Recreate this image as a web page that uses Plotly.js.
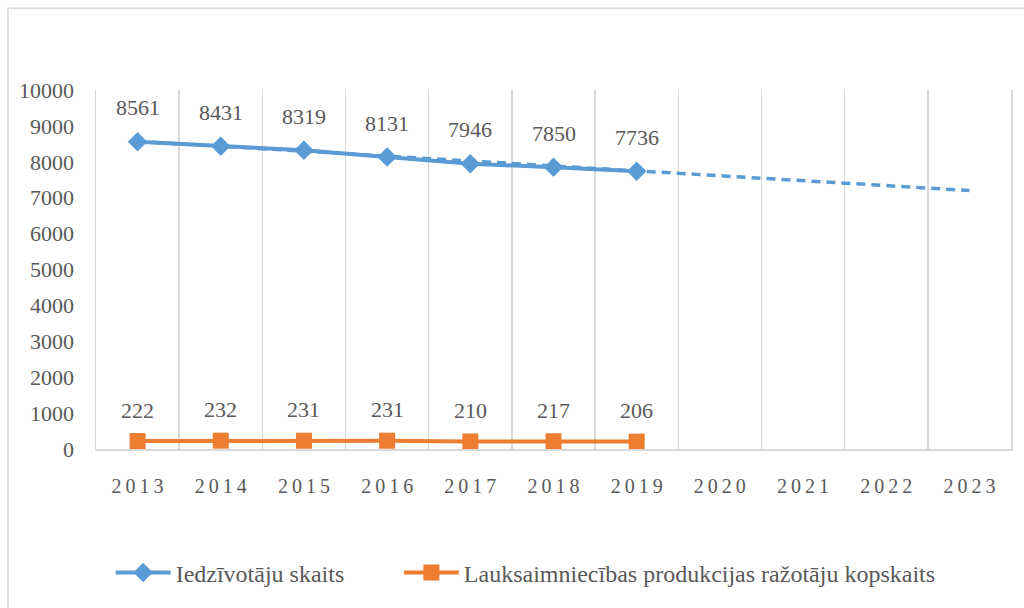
<!DOCTYPE html>
<html>
<head>
<meta charset="utf-8">
<script src="https://cdn.plot.ly/plotly-3.0.1.min.js"></script>
<style>body{margin:0;background:#fff}#chart{width:1024px;height:608px}</style>
</head>
<body>
<div id="chart"></div>
<script>
const years = ["2013","2014","2015","2016","2017","2018","2019","2020","2021","2022","2023"];
const popYears = ["2013","2014","2015","2016","2017","2018","2019"];
const population = [8561, 8431, 8319, 8131, 7946, 7850, 7736];
const producers = [222, 232, 231, 231, 210, 217, 206];
const trendYears = ["2013", "2023"];
const trendValues = [8570, 7200];
const seriesNames = ["Iedzīvotāju skaits", "Lauksaimniecības produkcijas ražotāju kopskaits"];

const blue = "#5B9BD5", orange = "#ED7D31", grey = "#595959";
const font = "Times New Roman, serif";

const traces = [
  {x: trendYears, y: trendValues, type: "scatter", mode: "lines", showlegend: false, hoverinfo: "skip",
   line: {color: blue, width: 3.5, dash: "9px,6px"}},
  {x: popYears, y: population, type: "scatter", mode: "lines+markers", name: seriesNames[0], legend: "legend",
   line: {color: blue, width: 4}, marker: {symbol: "diamond", size: 15, color: blue}},
  {x: popYears, y: producers, type: "scatter", mode: "lines+markers", name: seriesNames[1], legend: "legend2",
   line: {color: orange, width: 4}, marker: {symbol: "square", size: 16, color: orange}}
];

const annotations = [];
popYears.forEach((yr, i) => {
  const xi = years.indexOf(yr);
  annotations.push({xref: "x", yref: "y", x: xi, y: population[i], text: String(population[i]), showarrow: false,
    yshift: 34, font: {family: font, size: 22, color: grey}});
  annotations.push({xref: "x", yref: "y", x: xi, y: producers[i], text: String(producers[i]), showarrow: false,
    yshift: 31, font: {family: font, size: 22, color: grey}});
});

const legendBase = {orientation: "h", y: -0.345, xanchor: "left", yanchor: "middle",
  font: {family: font, size: 24, color: grey}, tracegroupgap: 0, itemwidth: 55, bgcolor: "rgba(0,0,0,0)"};

const layout = {
  width: 1024, height: 608,
  margin: {l: 96, r: 13, t: 90, b: 155},
  paper_bgcolor: "#fff", plot_bgcolor: "#fff",
  font: {family: font, color: grey, size: 20},
  showlegend: true,
  legend: Object.assign({}, legendBase, {x: 0.016}),
  legend2: Object.assign({}, legendBase, {x: 0.331}),
  xaxis: {
    type: "category", categoryorder: "array", categoryarray: years,
    range: [-0.5, years.length - 0.5],
    tickmode: "array", tickvals: years, ticktext: years.map(y => y.split("").join("\u2009")),
    tickson: "boundaries", showgrid: true, gridcolor: "#d9d9d9", gridwidth: 1.5,
    showline: true, linecolor: "#d9d9d9", linewidth: 1.5,
    ticks: "", ticklabelstandoff: 18,
    tickfont: {family: font, size: 20, color: grey}, zeroline: false
  },
  yaxis: {
    range: [0, 10000], dtick: 1000, tick0: 0, tickformat: "d", showgrid: false, zeroline: false,
    showline: true, mirror: true, linecolor: "#d9d9d9", linewidth: 1.5,
    ticks: "outside", ticklen: 16, tickcolor: "rgba(0,0,0,0)",
    tickfont: {family: font, size: 22, color: grey}
  },
  shapes: [{type: "rect", xref: "paper", yref: "paper",
    x0: (8 - 96) / 915, x1: 1.05, y0: -0.5, y1: (453 - 8) / 362.5,
    line: {color: "#d9d9d9", width: 1.5}, fillcolor: "rgba(0,0,0,0)", layer: "below"}],
  annotations: annotations
};

Plotly.newPlot("chart", traces, layout, {displayModeBar: false, staticPlot: true});
</script>
</body>
</html>
